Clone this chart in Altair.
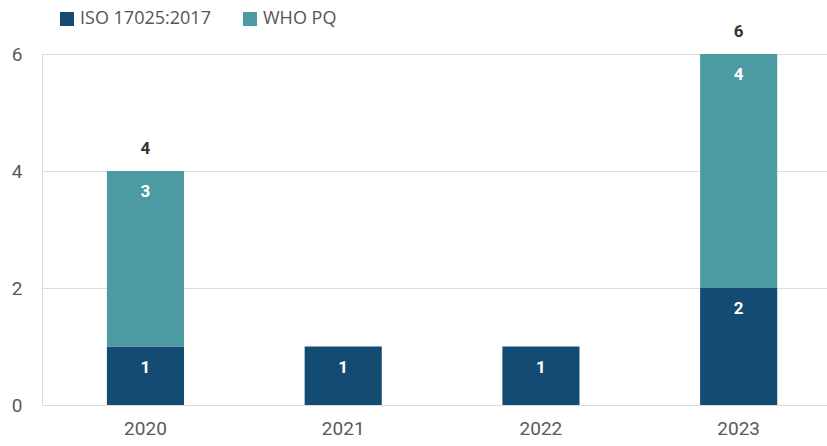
import altair as alt
import pandas as pd

years = ["2020", "2021", "2022", "2023"]
iso_values = [1, 1, 1, 2]
who_values = [3, 0, 0, 4]
series = ["ISO 17025:2017", "WHO PQ"]
colors = ["#134b72", "#4c9ba2"]

rows = []
for y, a, b in zip(years, iso_values, who_values):
    rows.append({"year": y, "series": series[0], "value": a, "order": 0})
    rows.append({"year": y, "series": series[1], "value": b, "order": 1})
df = pd.DataFrame(rows)

FONT = "Roboto"

base = alt.Chart(df)

bars = base.mark_bar().encode(
    x=alt.X("year:N",
            scale=alt.Scale(paddingInner=0.61, paddingOuter=0.29, align=0.566),
            axis=alt.Axis(title=None, labelAngle=0, ticks=False, domain=False,
                          labelFontSize=19, labelColor="#5a5a5a", labelFont=FONT,
                          labelPadding=14)),
    y=alt.Y("value:Q", stack="zero",
            scale=alt.Scale(domain=[0, 6], nice=False),
            axis=alt.Axis(title=None, values=[0, 2, 4, 6], format="d", ticks=False,
                          domain=False, labelFontSize=19, labelColor="#5a5a5a",
                          labelFont=FONT, labelPadding=20, gridColor="#dddddd",
                          gridWidth=1)),
    color=alt.Color("series:N", scale=alt.Scale(domain=series, range=colors),
                    legend=alt.Legend(title=None, orient="none", direction="horizontal",
                                      legendX=16, legendY=-44, symbolType="square",
                                      symbolSize=196, symbolStrokeWidth=0,
                                      symbolOpacity=1, labelFontSize=18,
                                      labelFont="Open Sans", labelColor="#555555",
                                      labelOffset=4, columnPadding=30, padding=0)),
    order=alt.Order("order:Q"),
)

seg_labels = base.transform_filter(alt.datum.value > 0).transform_stack(
    stack="value", groupby=["year"], sort=[alt.SortField("order")], as_=["y0", "y1"]
).mark_text(color="white", fontWeight="bold", fontSize=17, font=FONT, dy=21,
            baseline="middle").encode(
    x=alt.X("year:N"),
    y=alt.Y("y1:Q"),
    text=alt.Text("value:Q"),
)

totals = base.transform_aggregate(total="sum(value)", groupby=["year"]).mark_text(
    color="#333333", fontWeight="bold", fontSize=17, font=FONT, dy=-22,
    baseline="middle").encode(
    x=alt.X("year:N"),
    y=alt.Y("total:Q"),
    text=alt.Text("total:Q"),
)
totals = totals.transform_filter(alt.datum.total > 1)

chart = alt.layer(bars, seg_labels, totals).properties(
    width=785, height=351,
    autosize=alt.AutoSizeParams(type="none"),
    padding={"left": 42, "top": 54, "right": 0, "bottom": 41},
).configure_view(stroke=None).configure(background="white")

chart.save("out.html", embed_options={"renderer": "svg", "actions": False})
